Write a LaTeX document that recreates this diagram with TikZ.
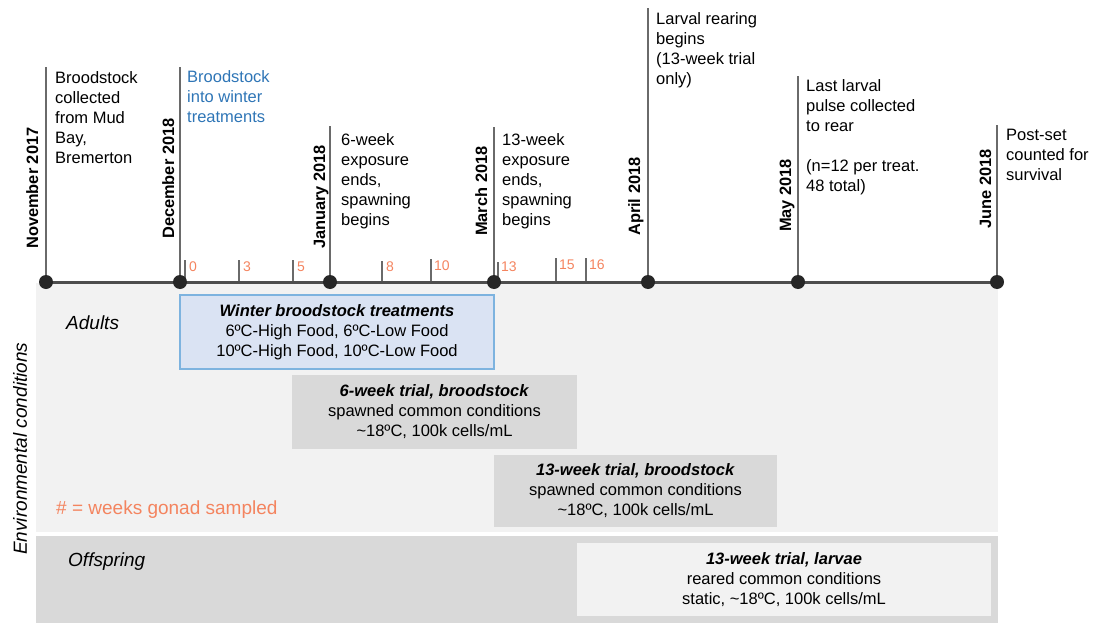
\documentclass[tikz,border=0pt]{standalone}
\usepackage{fontspec}
\setmainfont{Liberation Sans}
\definecolor{orng}{HTML}{F4845F}
\definecolor{blu}{HTML}{2E75B6}
\definecolor{lgray}{HTML}{F2F2F2}
\definecolor{mgray}{HTML}{D9D9D9}
\definecolor{wfill}{HTML}{DAE3F3}
\definecolor{wborder}{HTML}{7DB3DF}
\definecolor{vline}{HTML}{6A6A6A}
\definecolor{tline}{HTML}{4D4D4D}
\definecolor{dotc}{HTML}{262626}
\begin{document}
\begin{tikzpicture}[x=1pt,y=-1pt,
  dotnode/.style={circle, fill=dotc, minimum size=14pt, inner sep=0pt},
  eventtxt/.style={anchor=north west, align=left, inner sep=0pt, font=\fontsize{16.5}{20}\selectfont},
  monthtxt/.style={rotate=90, anchor=base west, inner sep=0pt, font=\bfseries\fontsize{16.4}{20}\selectfont},
  wktxt/.style={anchor=base west, inner sep=0pt, text=orng, font=\fontsize{14}{16}\selectfont},
  tickln/.style={draw=vline, line width=1.4pt},
  markln/.style={draw=vline, line width=2pt},
  trialbox/.style={align=center, inner sep=0pt, font=\fontsize{16.5}{20}\selectfont},
  sectxt/.style={anchor=base west, inner sep=0pt, font=\itshape\fontsize{19}{22}\selectfont}
]
\useasboundingbox (0,0) rectangle (1112,629);
% panels
\fill[lgray] (36,283) rectangle (998,532);
\fill[mgray] (36,536) rectangle (998,623);
% timeline points
\coordinate (p1) at (46,282);
\coordinate (p2) at (180,282);
\coordinate (p3) at (330,282);
\coordinate (p4) at (494,282);
\coordinate (p5) at (648,282);
\coordinate (p6) at (798,282);
\coordinate (p7) at (997,282);
\coordinate (q1) at (46,67);
\coordinate (q2) at (180,67);
\coordinate (q3) at (330,126);
\coordinate (q4) at (494,127);
\coordinate (q5) at (648,8);
\coordinate (q6) at (798,76);
\coordinate (q7) at (997,125);
\foreach \i in {1,...,7} {\draw[markln] (p\i) -- (q\i);}
% week ticks
\foreach \n/\x/\t in {w0/185/260, w3/239/260, w5/293/260, w8/382/261, w10/431/259, w13/498/262, w15/556/258, w16/586/258} {
  \coordinate (\n a) at (\x,282);
  \coordinate (\n b) at (\x,\t);
  \draw[tickln] (\n a) -- (\n b);
}
\node[wktxt] (l0) at (189,271) {0};
\node[wktxt] (l3) at (243,271) {3};
\node[wktxt] (l5) at (297,271) {5};
\node[wktxt] (l8) at (386,271) {8};
\node[wktxt] (l10) at (434,270) {10};
\node[wktxt] (l13) at (501,271) {13};
\node[wktxt] (l15) at (559,269) {15};
\node[wktxt] (l16) at (589,269) {16};
% timeline
\draw[tline, line width=3pt] (p1) -- (p7);
\foreach \i in {1,...,7} {\node[dotnode] (d\i) at (p\i) {};}
% month labels
\node[monthtxt] (m1) at (38,249) {November 2017};
\node[monthtxt] (m2) at (174,239) {December 2018};
\node[monthtxt] (m3) at (325,249) {January 2018};
\node[monthtxt] (m4) at (487,236) {March 2018};
\node[monthtxt] (m5) at (640,236) {April 2018};
\node[monthtxt] (m6) at (791,232) {May 2018};
\node[monthtxt] (m7) at (991,229) {June 2018};
% events
\node[eventtxt] (e1) at (55,71) {Broodstock\\collected\\from Mud\\Bay,\\Bremerton};
\node[eventtxt, text=blu] (e2) at (187,70) {Broodstock\\into winter\\treatments};
\node[eventtxt] (e3) at (341,133) {6-week\\exposure\\ends,\\spawning\\begins};
\node[eventtxt] (e4) at (502,133) {13-week\\exposure\\ends,\\spawning\\begins};
\node[eventtxt] (e5) at (656,12) {Larval rearing\\begins\\(13-week trial\\only)};
\node[eventtxt] (e6) at (806,79) {Last larval\\pulse collected\\to rear\\[20pt](n=12 per treat.\\48 total)};
\node[eventtxt] (e7) at (1006,129) {Post-set\\counted for\\survival};
% trial boxes
\node[trialbox, fill=wfill, draw=wborder, line width=1.5pt, minimum width=314pt, minimum height=74pt] (winter) at (337,332)
  {\textbf{\textit{Winter broodstock treatments}}\\6ºC-High Food, 6ºC-Low Food\\10ºC-High Food, 10ºC-Low Food};
\node[trialbox, fill=mgray, minimum width=285pt, minimum height=74pt] (six) at (434.5,412)
  {\textbf{\textit{6-week trial, broodstock}}\\spawned common conditions\\\textasciitilde18ºC, 100k cells/mL};
\node[trialbox, fill=mgray, minimum width=283pt, minimum height=72pt] (thirteen) at (635.5,491)
  {\textbf{\textit{13-week trial, broodstock}}\\spawned common conditions\\\textasciitilde18ºC, 100k cells/mL};
\node[trialbox, fill=lgray, minimum width=414pt, minimum height=73pt] (larvae) at (784,579.5)
  {\textbf{\textit{13-week trial, larvae}}\\reared common conditions\\static, \textasciitilde18ºC, 100k cells/mL};
% section labels
\node[sectxt] (adults) at (66,329) {Adults};
\node[sectxt] (offspring) at (68,566) {Offspring};
\node[anchor=base west, inner sep=0pt, text=orng, font=\fontsize{19}{22}\selectfont] (legend) at (56,514) {\# = weeks gonad sampled};
\node[sectxt, rotate=90] (env) at (27,555) {Environmental conditions};
\end{tikzpicture}
\end{document}
